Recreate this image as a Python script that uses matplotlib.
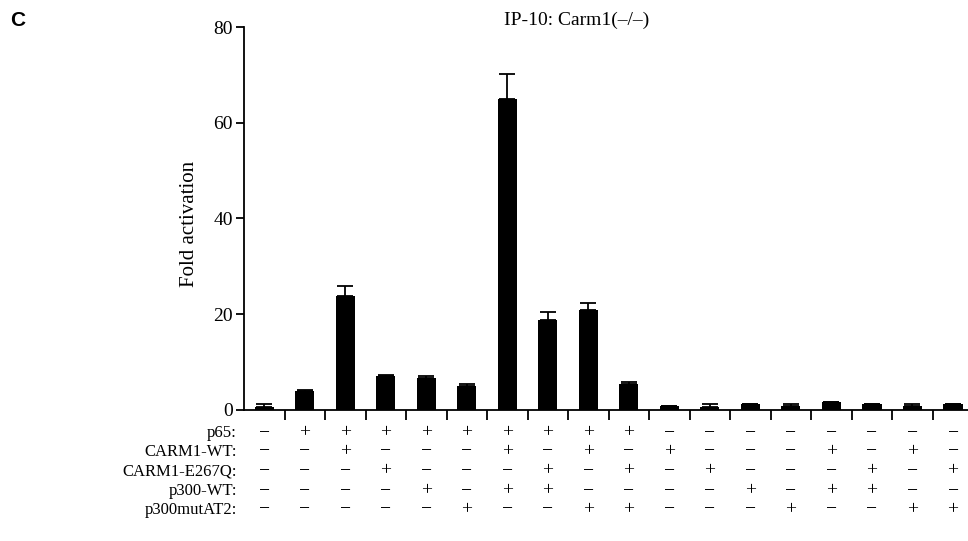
import matplotlib
matplotlib.use("Agg")
import matplotlib.pyplot as plt
import matplotlib.transforms as mtransforms
import numpy as np

# bar values (fold activation, mean and upper error)
values = [0.7, 4.0, 23.8, 7.0, 6.7, 5.0, 64.9, 18.7, 20.8, 5.5,
          0.8, 0.7, 1.3, 0.8, 1.6, 1.3, 0.8, 1.3]
errors = [0.5, 0.1, 2.0, 0.4, 0.3, 0.4, 5.3, 1.7, 1.6, 0.3,
          0.0, 0.5, 0.0, 0.5, 0.0, 0.0, 0.5, 0.0]

# transfection table, one string per construct, one char per bar
rowLabels = ["p65:", "CARM1-WT:", "CARM1-E267Q:", "p300-WT:", "p300mutAT2:"]
p65      = "-+++++++++--------"
carm1WT  = "--+---+-+-+---+-+-"
carm1Mut = "---+---+-+-+---+-+"
p300WT   = "----+-++----+-++--"
p300Mut  = "-----+--++---+--++"
rows = [p65, carm1WT, carm1Mut, p300WT, p300Mut]

plt.rcParams["font.family"] = ["Liberation Serif", "DejaVu Serif"]

W, H = 968, 541
fig = plt.figure(figsize=(W / 100, H / 100), dpi=100)
ax = fig.add_axes([244 / W, 1 - 410 / H, 1 - 244 / W, (410 - 27) / H])

x = np.arange(len(values))
ax.bar(x, values, width=0.47, color="black", zorder=2)
ax.errorbar(x, values, yerr=[np.zeros(len(errors)), errors], fmt="none",
            ecolor="black", elinewidth=1.3, capsize=5.5, capthick=1.3, zorder=1)

ax.set_xlim(-0.5, 17.37)
ax.set_ylim(0, 80)
ax.set_yticks([0, 20, 40, 60, 80])
ax.set_xticks(np.arange(0.5, 17, 1))
ax.set_xticklabels([])
ax.tick_params(axis="y", direction="out", length=6, width=1.3, labelsize=14, pad=2)
ax.tick_params(axis="x", direction="out", length=7, width=1.3)
for side in ["top", "right"]:
    ax.spines[side].set_visible(False)
for side in ["left", "bottom"]:
    ax.spines[side].set_linewidth(1.3)

fig.text(190 / W, 1 - 224 / H, "Fold activation", rotation=90,
         ha="center", va="center", fontsize=15)

# +/- table under the bars
rowY = [433, 452, 471, 491, 510]
blend = mtransforms.blended_transform_factory(ax.transData, fig.transFigure)
for label, marks, py in zip(rowLabels, rows, rowY):
    fy = 1 - py / H
    fig.text(237 / W, fy, label, ha="right", va="center", fontsize=12)
    for i, m in enumerate(marks):
        sym = "+" if m == "+" else "\u2212"
        ax.text(i, fy, sym, transform=blend, ha="center", va="center", fontsize=14)

fig.text(577 / W, 1 - 20 / H, "IP-10: Carm1(\u2013/\u2013)", ha="center", va="center", fontsize=14)
fig.text(10 / W, 1 - 20 / H, "C", ha="left", va="center", fontsize=15,
         fontweight="bold", family=["Liberation Sans", "DejaVu Sans"])

fig.savefig("out.png", dpi=100)
